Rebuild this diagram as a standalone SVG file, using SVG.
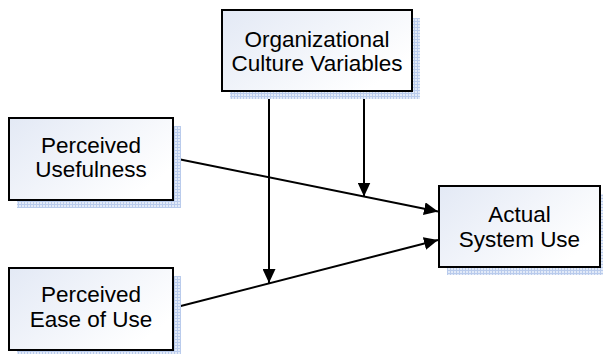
<svg xmlns="http://www.w3.org/2000/svg" width="603" height="354" viewBox="0 0 603 354">
  <style>
    .box { fill: url(#boxfill); stroke: #000; stroke-width: 2; }
    .shadow { fill: url(#dither); stroke: none; }
    .lbl { font-family: "Liberation Sans", Arial, sans-serif; font-size: 22.5px; fill: #000; text-anchor: middle; }
    .conn { stroke: #000; stroke-width: 2; fill: none; marker-end: url(#arrow); }
  </style>
  <defs>
    <linearGradient id="boxfill" x1="0" y1="0" x2="1" y2="0.6">
      <stop offset="0" stop-color="#e3e9f5"/>
      <stop offset="1" stop-color="#ffffff"/>
    </linearGradient>
    <pattern id="dither" width="3" height="3" patternUnits="userSpaceOnUse">
      <rect width="3" height="3" fill="#b9cbec"/>
      <rect x="1" y="1" width="2" height="2" fill="#e2eaf8"/>
    </pattern>
    <marker id="arrow" markerUnits="userSpaceOnUse" markerWidth="14" markerHeight="13" refX="14" refY="6.5" orient="auto">
      <path d="M0,0 L14,6.5 L0,13 Z" fill="#000"/>
    </marker>
  </defs>

  <g id="connectors">
    <line class="conn" x1="173" y1="158" x2="438" y2="211.5"/>
    <line class="conn" x1="173" y1="308" x2="438" y2="240"/>
    <line class="conn" x1="269" y1="91" x2="269" y2="283"/>
    <line class="conn" x1="364" y1="91" x2="364" y2="196.5"/>
  </g>

  <g id="org-culture">
    <rect class="shadow" x="230" y="18" width="190" height="81"/>
    <rect class="box" x="222" y="10" width="190" height="81"/>
    <text class="lbl" x="317" y="46.5">Organizational</text>
    <text class="lbl" x="317" y="71">Culture Variables</text>
  </g>

  <g id="perceived-usefulness">
    <rect class="shadow" x="17" y="126" width="164" height="82"/>
    <rect class="box" x="9" y="118" width="164" height="82"/>
    <text class="lbl" x="91" y="152.5">Perceived</text>
    <text class="lbl" x="91" y="177">Usefulness</text>
  </g>

  <g id="perceived-ease">
    <rect class="shadow" x="17" y="276" width="164" height="82"/>
    <rect class="box" x="9" y="268" width="164" height="82"/>
    <text class="lbl" x="91" y="302">Perceived</text>
    <text class="lbl" x="91" y="327">Ease of Use</text>
  </g>

  <g id="actual-use">
    <rect class="shadow" x="447" y="194" width="161" height="81"/>
    <rect class="box" x="439" y="186" width="161" height="81"/>
    <text class="lbl" x="519.5" y="221.5">Actual</text>
    <text class="lbl" x="519.5" y="246.5">System Use</text>
  </g>
</svg>
